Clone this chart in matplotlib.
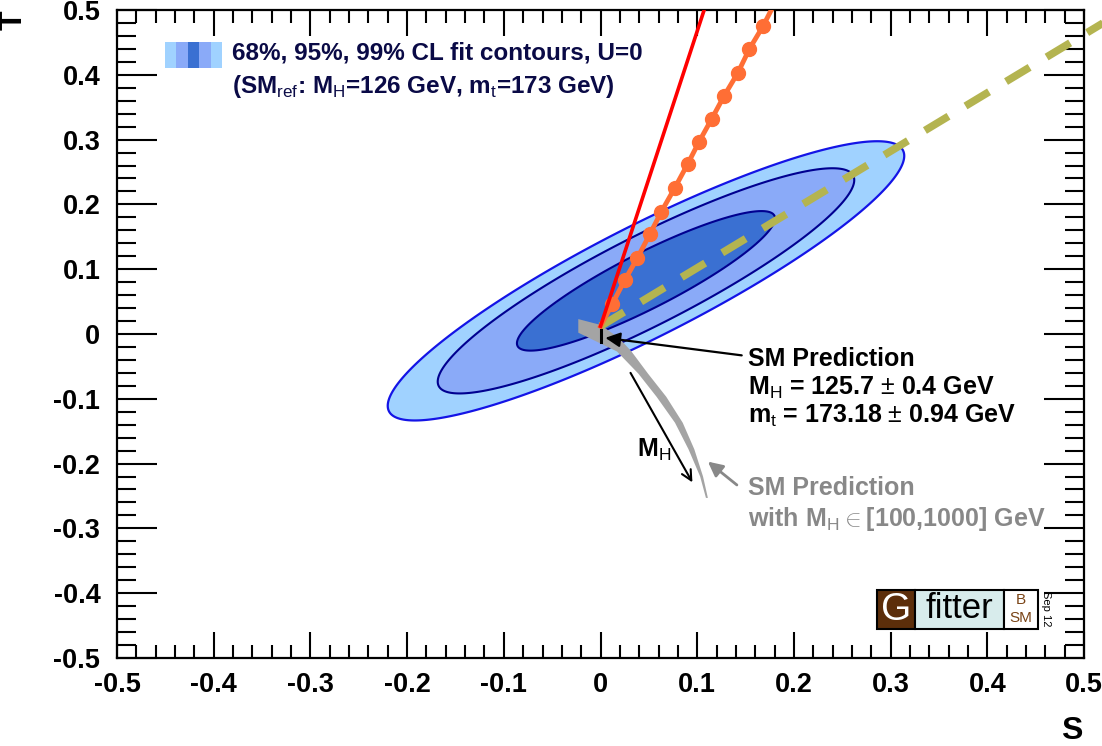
import numpy as np
import matplotlib
matplotlib.use("Agg")
import matplotlib.pyplot as plt
from matplotlib.patches import Rectangle
from matplotlib.ticker import MultipleLocator

plt.rcParams['font.family'] = ['Liberation Sans', 'DejaVu Sans']
plt.rcParams['mathtext.fontset'] = 'custom'
plt.rcParams['mathtext.rm'] = 'Liberation Sans'
plt.rcParams['mathtext.bf'] = 'Liberation Sans:bold'

# fit result for S,T with U=0
fit_center = (0.047, 0.082)
fit_sigma = (0.088, 0.071)
fit_rho = 0.895
cl_levels = [0.0, 2.30, 5.99, 9.21]     # 68%, 95%, 99% for 2 dof

# SM prediction band, M_H in [100, 1000] GeV
band_left_S = [-0.023, -0.023, 0.017, 0.039, 0.058, 0.077, 0.091, 0.103, 0.109]
band_left_T = [0.023, 0.002, -0.027, -0.061, -0.097, -0.137, -0.178, -0.220, -0.253]
band_right_S = [0.0, 0.019, 0.032, 0.049, 0.068, 0.085, 0.097, 0.106, 0.111]
band_right_T = [0.014, -0.006, -0.027, -0.061, -0.097, -0.137, -0.178, -0.220, -0.253]

# model lines
red_S = [0.0, 0.110]
red_T = [0.012, 0.513]
orange_S = [0.0, 0.012, 0.025, 0.038, 0.051, 0.063, 0.077, 0.090, 0.102,
            0.115, 0.128, 0.142, 0.154, 0.168, 0.180]
orange_T = [0.012, 0.046, 0.083, 0.117, 0.154, 0.189, 0.226, 0.262, 0.297,
            0.332, 0.368, 0.403, 0.440, 0.475, 0.510]
dash_S = [0.0, 0.522]
dash_T = [0.012, 0.482]

sm_point_S = 0.0
sm_point_T = (-0.012, 0.006)

fig = plt.figure(figsize=(11.02, 7.46), dpi=100)
ax = fig.add_axes([0.1062, 0.1180, 0.8775, 0.8686])

# chi2 contours
s = np.linspace(-0.5, 0.5, 700)
t = np.linspace(-0.5, 0.5, 700)
SS, TT = np.meshgrid(s, t)
dS = (SS - fit_center[0]) / fit_sigma[0]
dT = (TT - fit_center[1]) / fit_sigma[1]
chi2 = (dS**2 - 2 * fit_rho * dS * dT + dT**2) / (1 - fit_rho**2)
ax.contourf(SS, TT, chi2, levels=cl_levels,
            colors=['#3a70d2', '#8aaaf8', '#a0d2ff'], zorder=1)
ax.contour(SS, TT, chi2, levels=cl_levels[1:3], colors='#000090',
           linewidths=1.5, zorder=2)
ax.contour(SS, TT, chi2, levels=cl_levels[3:], colors='#1414e6',
           linewidths=1.6, zorder=2)

# gray SM band
ax.fill(band_left_S + band_right_S[::-1], band_left_T + band_right_T[::-1],
        color='#a4a4a4', lw=0, zorder=3)

ax.plot(dash_S, dash_T, color='#b4b450', lw=5.5, dashes=(3.6, 2.6),
        clip_on=False, zorder=4)
ax.plot(orange_S, orange_T, color='#ff6e35', lw=3.5, zorder=5)
ax.plot(orange_S[1:-1], orange_T[1:-1], 'o', color='#ff6e35', ms=10, zorder=5)
ax.plot(red_S, red_T, color='#ff0000', lw=2.6, zorder=6)
ax.plot([sm_point_S, sm_point_S], sm_point_T, color='black', lw=2.2, zorder=7)

# annotations
ax.annotate('', xy=(0.005, -0.006), xytext=(0.146, -0.033),
            arrowprops=dict(arrowstyle='-|>', color='black', lw=1.6,
                            mutation_scale=22, shrinkA=0, shrinkB=0), zorder=8)
ax.annotate('', xy=(0.095, -0.229), xytext=(0.031, -0.060),
            arrowprops=dict(arrowstyle='->', color='black', lw=1.5,
                            mutation_scale=18, shrinkA=0, shrinkB=0), zorder=8)
ax.annotate('', xy=(0.111, -0.197), xytext=(0.141, -0.233),
            arrowprops=dict(arrowstyle='-|>', color='#888888', lw=2.0,
                            mutation_scale=22, shrinkA=0, shrinkB=0), zorder=8)

tkw = dict(fontsize=18, fontweight='bold', va='baseline', ha='left', zorder=9)
ax.text(0.152, -0.049, 'SM Prediction', color='black', **tkw)
ax.text(0.152, -0.094, r'M$_{\rm H}$ = 125.7 $\pm$ 0.4 GeV', color='black', **tkw)
ax.text(0.152, -0.137, r'm$_{\rm t}$ = 173.18 $\pm$ 0.94 GeV', color='black', **tkw)
ax.text(0.152, -0.248, 'SM Prediction', color='#888888', **tkw)
ax.text(0.152, -0.297, r'with M$_{\rm H}\in$[100,1000] GeV', color='#888888', **tkw)
ax.text(0.038, -0.189, r'M$_{\rm H}$', color='black', **tkw)

# legend
stripes = ['#a0d2ff', '#8aaaf8', '#3a70d2', '#8aaaf8', '#a0d2ff']
for i, c in enumerate(stripes):
    ax.add_patch(Rectangle((0.0496 + i * 0.0118, 0.9105), 0.0118, 0.0401,
                           transform=ax.transAxes, color=c, lw=0, zorder=9))
lkw = dict(transform=ax.transAxes, fontsize=17.5, fontweight='bold',
           color='#0a0a46', va='baseline', ha='left', zorder=9)
ax.text(0.119, 0.923, '68%, 95%, 99% CL fit contours, U=0', **lkw)
ax.text(0.119, 0.872, r'(SM$_{\rm ref}$: M$_{\rm H}$=126 GeV, m$_{\rm t}$=173 GeV)', **lkw)

# axes
ax.set_xlim(-0.5, 0.5)
ax.set_ylim(-0.5, 0.5)
ax.xaxis.set_major_locator(MultipleLocator(0.1))
ax.xaxis.set_minor_locator(MultipleLocator(0.02))
ax.yaxis.set_major_locator(MultipleLocator(0.1))
ax.yaxis.set_minor_locator(MultipleLocator(0.02))
fmt = plt.FuncFormatter(lambda v, p: '0' if abs(v) < 1e-9 else f'{v:.1f}')
ax.xaxis.set_major_formatter(fmt)
ax.yaxis.set_major_formatter(fmt)
ax.tick_params(which='both', direction='in', top=True, right=True, width=1.5,
               labelsize=19.5)
ax.tick_params(axis='x', which='major', length=19, pad=10)
ax.tick_params(axis='x', which='minor', length=9.5)
ax.tick_params(axis='y', which='major', length=29, pad=12)
ax.tick_params(axis='y', which='minor', length=14)
for lab in ax.get_xticklabels() + ax.get_yticklabels():
    lab.set_fontweight('bold')
for sp in ax.spines.values():
    sp.set_linewidth(1.6)

fig.text(1072 / 1102, 1 - 731 / 746, 'S', fontsize=23, fontweight='bold',
         ha='center', va='center')
fig.text(14 / 1102, 1 - 20 / 746, 'T', fontsize=23, fontweight='bold',
         ha='center', va='center', rotation=90)

# Gfitter logo
def fbox(x0, y0, x1, y1, fc):
    fig.patches.append(Rectangle((x0 / 1102, 1 - y1 / 746), (x1 - x0) / 1102,
                                 (y1 - y0) / 746, transform=fig.transFigure,
                                 fc=fc, ec='black', lw=1.5, zorder=10))

fbox(877, 590, 915, 629, '#5c2e0a')
fbox(915, 590, 1004, 629, '#d8ecec')
fbox(1004, 590, 1038, 629, 'white')
fig.text(896 / 1102, 1 - 610 / 746, 'G', fontsize=28, color='white',
         ha='center', va='center', zorder=11)
fig.text(959 / 1102, 1 - 609 / 746, 'fitter', fontsize=25, color='black',
         ha='center', va='center', zorder=11)
fig.text(1021 / 1102, 1 - 600 / 746, 'B', fontsize=11, color='#7a4416',
         ha='center', va='center', zorder=11)
fig.text(1021 / 1102, 1 - 618 / 746, 'SM', fontsize=11, color='#7a4416',
         ha='center', va='center', zorder=11)
fig.text(1046 / 1102, 1 - 609 / 746, 'Sep 12', fontsize=8, color='black',
         ha='center', va='center', rotation=-90, zorder=11)

fig.savefig('out.png', dpi=100)
